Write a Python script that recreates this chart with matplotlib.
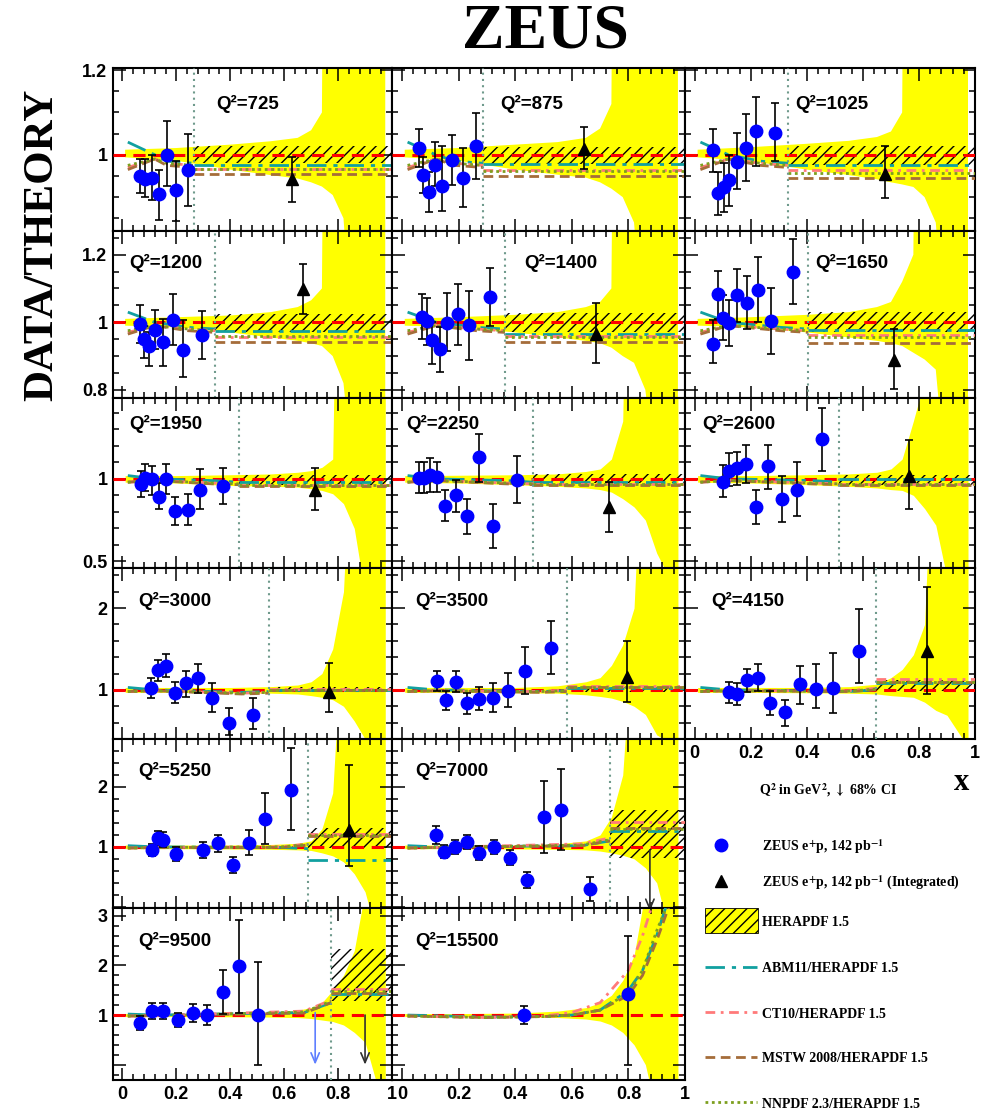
import numpy as np
import matplotlib
matplotlib.use('Agg')
import matplotlib.pyplot as plt
from matplotlib.patches import Rectangle
from matplotlib.ticker import MultipleLocator, FuncFormatter

plt.rcParams['mathtext.fontset'] = 'stix'
plt.rcParams['hatch.linewidth'] = 1.0

SANS = 'Liberation Sans'
SERIF = 'Liberation Serif'

Q2 = [725, 875, 1025, 1200, 1400, 1650, 1950, 2250, 2600,
      3000, 3500, 4150, 5250, 7000, 9500, 15500]

# differential points (x, ratio, upper end of error, lower end of error)
PT_X = [
    [0.067, 0.085, 0.11, 0.135, 0.165, 0.2, 0.242],
    [0.061, 0.075, 0.095, 0.117, 0.142, 0.178, 0.217, 0.261],
    [0.065, 0.083, 0.104, 0.123, 0.151, 0.181, 0.218, 0.286],
    [0.067, 0.079, 0.1, 0.122, 0.151, 0.188, 0.225, 0.295],
    [0.07, 0.087, 0.106, 0.134, 0.161, 0.199, 0.238, 0.311],
    [0.065, 0.083, 0.101, 0.123, 0.151, 0.185, 0.224, 0.271, 0.351],
    [0.07, 0.083, 0.11, 0.134, 0.162, 0.196, 0.242, 0.289, 0.373],
    [0.061, 0.079, 0.099, 0.125, 0.152, 0.19, 0.229, 0.272, 0.323, 0.405],
    [0.101, 0.123, 0.151, 0.182, 0.218, 0.26, 0.311, 0.363, 0.455],
    [0.107, 0.132, 0.162, 0.196, 0.236, 0.28, 0.332, 0.394, 0.484],
    [0.125, 0.154, 0.19, 0.229, 0.272, 0.323, 0.376, 0.435, 0.525],
    [0.123, 0.151, 0.185, 0.224, 0.27, 0.321, 0.377, 0.434, 0.494, 0.587],
    [0.111, 0.133, 0.152, 0.2, 0.3, 0.356, 0.411, 0.47, 0.53, 0.626],
    [0.12, 0.148, 0.187, 0.23, 0.272, 0.325, 0.382, 0.442, 0.502, 0.562, 0.664],
    [0.067, 0.111, 0.152, 0.207, 0.26, 0.315, 0.374, 0.433, 0.504],
    [0.431, 0.80],
]
PT_Y = [
    [0.95, 0.944, 0.946, 0.907, 1.0, 0.916, 0.964],
    [1.016, 0.953, 0.912, 0.977, 0.926, 0.988, 0.946, 1.021],
    [1.011, 0.909, 0.923, 0.941, 0.984, 1.017, 1.056, 1.052],
    [0.994, 0.952, 0.929, 0.978, 0.942, 1.008, 0.919, 0.961],
    [1.016, 1.004, 0.949, 0.922, 0.999, 1.024, 0.991, 1.075],
    [0.937, 1.083, 1.014, 0.998, 1.082, 1.057, 1.095, 1.004, 1.149],
    [0.968, 1.008, 1.0, 0.893, 1.0, 0.803, 0.809, 0.934, 0.958],
    [1.008, 1.008, 1.024, 1.014, 0.837, 0.904, 0.773, 1.131, 0.717, 0.994],
    [0.984, 1.048, 1.064, 1.088, 0.829, 1.078, 0.878, 0.934, 1.241],
    [1.02, 1.243, 1.295, 0.968, 1.081, 1.142, 0.906, 0.595, 0.688],
    [1.109, 0.878, 1.101, 0.838, 0.891, 0.899, 0.992, 1.231, 1.515],
    [0.98, 0.951, 1.122, 1.15, 0.838, 0.724, 1.069, 1.012, 1.02, 1.474],
    [0.95, 1.15, 1.12, 0.88, 0.95, 1.06, 0.7, 1.07, 1.47, 1.95],
    [1.2, 0.92, 1.0, 1.08, 0.9, 1.0, 0.82, 0.45, 1.5, 1.62, 0.3],
    [0.84, 1.08, 1.08, 0.9, 1.04, 1.0, 1.46, 1.98, 1.0],
    [1.0, 1.42],
]
PT_UP = [
    [0.99, 0.99, 1.0, 0.965, 1.08, 0.986, 1.049],
    [1.06, 0.995, 0.96, 1.031, 1.02, 1.047, 1.016, 1.098],
    [1.061, 0.96, 0.98, 0.999, 1.052, 1.097, 1.137, 1.122],
    [1.05, 0.99, 0.97, 1.036, 1.011, 1.085, 1.006, 1.033],
    [1.085, 1.072, 1.0, 0.986, 1.088, 1.113, 1.092, 1.161],
    [1.006, 1.152, 1.08, 1.067, 1.159, 1.137, 1.192, 1.102, 1.245],
    [1.05, 1.088, 1.08, 0.974, 1.09, 0.893, 0.908, 1.06, 1.068],
    [1.104, 1.104, 1.124, 1.104, 0.934, 0.994, 0.88, 1.271, 0.848, 1.139],
    [1.084, 1.155, 1.165, 1.205, 0.934, 1.205, 1.018, 1.1, 1.43],
    [1.142, 1.365, 1.437, 1.093, 1.231, 1.312, 1.081, 0.785, 0.899],
    [1.231, 0.988, 1.231, 0.96, 1.04, 1.081, 1.202, 1.519, 1.843],
    [1.101, 1.081, 1.256, 1.312, 0.988, 0.878, 1.296, 1.312, 1.446, 1.984],
    [1.05, 1.27, 1.24, 0.99, 1.08, 1.2, 0.83, 1.28, 1.9, 2.65],
    [1.35, 1.03, 1.12, 1.2, 1.02, 1.12, 0.95, 0.58, 2.1, 2.3, 0.5],
    [0.98, 1.24, 1.24, 1.05, 1.22, 1.2, 1.9, 2.92, 2.08],
    [1.18, 2.6],
]
PT_DN = [
    [0.91, 0.9, 0.893, 0.847, 0.926, 0.843, 0.88],
    [0.97, 0.91, 0.866, 0.926, 0.868, 0.928, 0.877, 0.943],
    [0.959, 0.858, 0.866, 0.88, 0.92, 0.938, 0.974, 0.986],
    [0.94, 0.895, 0.87, 0.922, 0.87, 0.932, 0.838, 0.892],
    [0.952, 0.932, 0.877, 0.853, 0.915, 0.934, 0.889, 0.988],
    [0.879, 1.01, 0.947, 0.929, 1.001, 0.979, 1.001, 0.907, 1.055],
    [0.893, 0.924, 0.9, 0.819, 0.908, 0.719, 0.719, 0.819, 0.849],
    [0.914, 0.914, 0.92, 0.92, 0.743, 0.799, 0.667, 0.98, 0.582, 0.854],
    [0.888, 0.954, 0.96, 0.974, 0.727, 0.94, 0.737, 0.777, 1.048],
    [0.906, 1.109, 1.162, 0.838, 0.919, 0.96, 0.736, 0.453, 0.525],
    [0.988, 0.757, 0.98, 0.704, 0.757, 0.728, 0.79, 0.948, 1.19],
    [0.838, 0.818, 0.98, 0.988, 0.688, 0.553, 0.826, 0.777, 0.717, 1.081],
    [0.85, 1.03, 1.0, 0.77, 0.82, 0.92, 0.57, 0.86, 1.05, 1.28],
    [1.05, 0.81, 0.88, 0.96, 0.78, 0.88, 0.69, 0.32, 0.9, 0.95, 0.1],
    [0.7, 0.92, 0.92, 0.75, 0.86, 0.8, 1.02, 1.05, 0.0],
    [0.82, 0.0],
]

# integrated bin: boundary, triangle point, HERAPDF hatched band
EDGE = [0.264, 0.287, 0.333, 0.344, 0.364, 0.405, 0.431, 0.464, 0.515,
        0.542, 0.582, 0.646, 0.689, 0.735, 0.774, None]
TRI_X = [0.628, 0.644, 0.679, 0.669, 0.684, 0.712, 0.715, 0.733, 0.765,
         0.768, 0.794, 0.83, 0.84, None, None, None]
TRI_Y = [0.943, 1.013, 0.955, 1.097, 0.964, 0.887, 0.93, 0.827, 1.02,
         0.98, 1.162, 1.474, 1.28, None, None, None]
TRI_UP = [0.995, 1.066, 1.021, 1.172, 1.057, 0.979, 1.068, 0.984, 1.235,
          1.324, 1.596, 2.254, 2.37, None, None, None]
TRI_DN = [0.889, 0.967, 0.898, 1.024, 0.879, 0.803, 0.813, 0.677, 0.819,
          0.736, 0.85, 0.948, 0.68, None, None, None]
HATCH_LO = [0.98, 0.978, 0.977, 0.971, 0.971, 0.971, 0.96, 0.974, 0.964,
            0.97, 0.97, 0.985, 0.98, 0.82, 1.28, None]
HATCH_HI = [1.02, 1.019, 1.021, 1.023, 1.026, 1.031, 1.024, 1.028, 1.024,
            1.03, 1.04, 1.12, 1.32, 1.62, 2.33, None]

# 68% CI upper limits drawn as arrows
LIMIT_PANEL = [13, 14, 14]
LIMIT_X = [0.876, 0.715, 0.9]
LIMIT_TOP = [0.95, 1.05, 1.0]
LIMIT_BOTTOM = [-0.07, 0.0, 0.0]
LIMIT_COLOR = ['#303030', '#5f7fff', '#303030']

# HERAPDF 1.5 uncertainty band
BAND_X = [0.01, 0.2, 0.4, 0.55, 0.65, 0.7, 0.74, 0.78, 0.82, 0.86, 0.9, 0.975]
BAND_UP = [
    [1.012, 1.016, 1.024, 1.032, 1.04, 1.058, 1.1, 5, 5, 5, 5, 5],
    [1.012, 1.016, 1.024, 1.03, 1.04, 1.062, 1.12, 5, 5, 5, 5, 5],
    [1.012, 1.018, 1.026, 1.033, 1.042, 1.055, 1.1, 5, 5, 5, 5, 5],
    [1.01, 1.015, 1.02, 1.03, 1.045, 1.065, 1.1, 5, 5, 5, 5, 5],
    [1.01, 1.015, 1.022, 1.03, 1.045, 1.06, 1.1, 5, 5, 5, 5, 5],
    [1.01, 1.015, 1.022, 1.03, 1.045, 1.06, 1.12, 1.2, 5, 5, 5, 5],
    [1.02, 1.02, 1.025, 1.03, 1.04, 1.05, 1.07, 1.12, 5, 5, 5, 5],
    [1.02, 1.022, 1.025, 1.03, 1.045, 1.06, 1.12, 1.35, 5, 5, 5, 5],
    [1.02, 1.02, 1.025, 1.03, 1.04, 1.06, 1.12, 1.35, 1.6, 5, 5, 5],
    [1.03, 1.03, 1.03, 1.04, 1.06, 1.1, 1.2, 1.5, 2.2, 5, 5, 5],
    [1.03, 1.03, 1.03, 1.05, 1.1, 1.15, 1.3, 1.55, 2.0, 5, 5, 5],
    [1.03, 1.03, 1.03, 1.04, 1.07, 1.15, 1.25, 1.43, 1.8, 5, 5, 5],
    [1.03, 1.03, 1.03, 1.04, 1.06, 1.1, 1.3, 1.9, 5, 5, 5, 5],
    [1.03, 1.03, 1.03, 1.05, 1.1, 1.2, 1.5, 2.2, 5, 5, 5, 5],
    [1.03, 1.03, 1.03, 1.05, 1.1, 1.15, 1.25, 1.5, 1.8, 2.3, 3.5, 5],
    [1.03, 1.03, 1.04, 1.08, 1.15, 1.25, 1.4, 1.7, 2.2, 3.5, 5, 5],
]
BAND_DN = [
    [0.994, 0.986, 0.965, 0.952, 0.944, 0.935, 0.925, 0.905, 0.85, 0.5, 0.5, 0.5],
    [0.994, 0.986, 0.965, 0.953, 0.946, 0.935, 0.92, 0.9, 0.84, 0.5, 0.5, 0.5],
    [0.994, 0.985, 0.965, 0.952, 0.942, 0.935, 0.93, 0.924, 0.9, 0.84, 0.5, 0.5],
    [0.99, 0.985, 0.97, 0.955, 0.945, 0.938, 0.93, 0.9, 0.82, 0.5, 0.5, 0.5],
    [0.99, 0.985, 0.97, 0.955, 0.945, 0.938, 0.925, 0.9, 0.88, 0.8, 0.5, 0.5],
    [0.99, 0.985, 0.97, 0.955, 0.945, 0.938, 0.93, 0.91, 0.89, 0.86, 0.5, 0.5],
    [0.98, 0.975, 0.96, 0.955, 0.95, 0.94, 0.93, 0.91, 0.85, 0.7, 0.3, 0.3],
    [0.98, 0.975, 0.965, 0.955, 0.945, 0.935, 0.92, 0.88, 0.83, 0.75, 0.55, 0.3],
    [0.98, 0.975, 0.965, 0.955, 0.945, 0.935, 0.93, 0.9, 0.82, 0.72, 0.4, 0.3],
    [0.97, 0.97, 0.965, 0.96, 0.95, 0.93, 0.91, 0.88, 0.8, 0.62, 0.4, 0.3],
    [0.97, 0.97, 0.965, 0.96, 0.94, 0.92, 0.9, 0.86, 0.8, 0.7, 0.45, 0.3],
    [0.97, 0.97, 0.965, 0.96, 0.95, 0.93, 0.92, 0.91, 0.85, 0.75, 0.69, 0.3],
    [0.97, 0.97, 0.965, 0.96, 0.95, 0.94, 0.9, 0.85, 0.75, 0.55, 0.25, -1],
    [0.97, 0.97, 0.965, 0.96, 0.95, 0.93, 0.9, 0.86, 0.8, 0.65, 0.4, -1],
    [0.97, 0.97, 0.965, 0.96, 0.95, 0.93, 0.9, 0.87, 0.8, 0.65, 0.45, -1],
    [0.97, 0.97, 0.96, 0.95, 0.92, 0.88, 0.8, 0.65, 0.4, 0.0, -1, -1],
]

# other PDFs / HERAPDF 1.5: curve knots below the edge, flat value above it
CURVE_X = [[0.02, 0.12, e - 0.1, e] for e in EDGE[:-1]] + \
          [[0.02, 0.3, 0.5, 0.6, 0.7, 0.8, 0.85, 0.9, 0.95]]
ABM_C = [[1.03, 1.0, 0.985, 0.98]] * 6 + [[1.02, 1.0, 0.99, 0.98]] * 3 + [
    [1.03, 1.0, 0.97, 0.98], [1.03, 1.0, 0.98, 0.99], [1.03, 1.0, 0.98, 1.0],
    [1.02, 1.0, 0.99, 0.97], [1.02, 1.0, 1.02, 1.1], [1.02, 1.0, 1.05, 1.25],
    [1.0, 0.96, 0.97, 1.0, 1.1, 1.5, 1.9, 2.6, 3.5]]
CT10_C = [[0.97, 0.99, 0.98, 0.975]] * 6 + [[0.98, 0.99, 0.975, 0.97]] * 3 + [
    [0.98, 0.99, 0.96, 0.97], [0.98, 0.99, 0.98, 1.0], [0.98, 0.99, 0.99, 1.02],
    [0.98, 0.99, 1.0, 1.05], [0.98, 0.99, 1.05, 1.15], [0.98, 0.99, 1.08, 1.3],
    [0.98, 0.95, 0.98, 1.05, 1.25, 1.9, 2.6, 3.5, 4.0]]
MSTW_C = [[0.965, 0.99, 0.975, 0.97]] * 6 + [[0.98, 0.99, 0.97, 0.965]] * 3 + [
    [0.98, 0.99, 0.95, 0.96], [0.98, 0.99, 0.97, 0.98], [0.98, 0.99, 0.98, 1.0],
    [0.98, 0.99, 0.99, 1.03], [0.98, 0.99, 1.02, 1.1], [0.98, 0.99, 1.04, 1.25],
    [0.98, 0.95, 0.97, 1.0, 1.1, 1.4, 1.8, 2.5, 3.3]]
NNPDF_C = [[0.975, 0.99, 0.98, 0.975]] * 6 + [[0.98, 0.99, 0.975, 0.97]] * 3 + [
    [0.98, 0.99, 0.96, 0.97], [0.98, 0.99, 0.98, 0.99], [0.98, 0.99, 0.985, 1.01],
    [0.98, 0.99, 1.0, 1.04], [0.98, 0.99, 1.03, 1.12], [0.98, 0.99, 1.06, 1.28],
    [0.98, 0.95, 0.97, 1.0, 1.1, 1.45, 1.9, 2.7, 3.4]]
ABM_INT = [0.976, 0.978, 0.976, 0.974, 0.966, 0.978, 0.98, 0.98, 0.997,
           1.0, 1.02, 1.08, 0.78, 1.27, 1.42, None]
CT10_INT = [0.967, 0.964, 0.963, 0.956, 0.958, 0.961, 0.962, 0.966, 0.97,
            1.01, 1.05, 1.13, 1.22, 1.42, 1.52, None]
MSTW_INT = [0.955, 0.951, 0.946, 0.942, 0.942, 0.94, 0.958, 0.962, 0.965,
            0.995, 1.03, 1.1, 1.18, 1.32, 1.45, None]
NNPDF_INT = [0.966, 0.962, 0.958, 0.958, 0.955, 0.955, 0.965, 0.968, 0.968,
             1.0, 1.03, 1.1, 1.2, 1.3, 1.48, None]

MODELS = [
    ('ABM11/HERAPDF 1.5', ABM_C, ABM_INT, '#11a0a0', (0, (7, 2.5, 1.5, 2.5))),
    ('CT10/HERAPDF 1.5', CT10_C, CT10_INT, '#ff7a7a', (0, (3.5, 2, 1, 2))),
    ('MSTW 2008/HERAPDF 1.5', MSTW_C, MSTW_INT, '#a56d3a', (0, (3.5, 2))),
    ('NNPDF 2.3/HERAPDF 1.5', NNPDF_C, NNPDF_INT, '#7d9f1e', (0, (1, 1.3))),
]

# layout in pixels
W, H = 982, 1113
COL_L = [113, 392, 685]
COL_R = [392, 685, 975]
ROW_T = [68, 231, 398, 568, 739, 908]
ROW_B = [231, 398, 568, 739, 908, 1080]
PANEL_RC = [(0, 0), (0, 1), (0, 2), (1, 0), (1, 1), (1, 2), (2, 0), (2, 1), (2, 2),
            (3, 0), (3, 1), (3, 2), (4, 0), (4, 1), (5, 0), (5, 1)]
YLIM = [(0.82, 1.205), (0.776, 1.27), (0.46, 1.49), (0.40, 2.49), (-0.02, 2.8), (-0.31, 3.16)]
YTICK = [(0.2, 0.05), (0.2, 0.05), (0.5, 0.1), (1, 0.2), (1, 0.2), (1, 0.2)]
LABEL_POS = [(0.37, 0.78), (0.37, 0.78), (0.38, 0.78),
             (0.06, 0.81), (0.45, 0.81), (0.45, 0.81),
             (0.06, 0.85), (0.05, 0.85), (0.06, 0.85),
             (0.09, 0.81), (0.08, 0.81), (0.09, 0.81),
             (0.09, 0.81), (0.08, 0.81), (0.09, 0.81), (0.08, 0.81)]
XLABELED = (11, 14, 15)

fig = plt.figure(figsize=(W / 100, H / 100), dpi=100)
lax = fig.add_axes([0, 0, 1, 1])
lax.set_xlim(0, W)
lax.set_ylim(H, 0)
lax.axis('off')

xfmt = FuncFormatter(lambda v, p: f'{v:g}')
yfmt = FuncFormatter(lambda v, p: '' if abs(v) < 1e-9 else f'{v:g}')

for i, q in enumerate(Q2):
    r, c = PANEL_RC[i]
    ax = fig.add_axes([COL_L[c] / W, 1 - ROW_B[r] / H,
                       (COL_R[c] - COL_L[c]) / W, (ROW_B[r] - ROW_T[r]) / H])
    ax.set_xlim(-0.035, 1.0)
    ax.set_ylim(*YLIM[r])

    ax.fill_between(BAND_X, BAND_DN[i], BAND_UP[i], color='#ffff00', lw=0, zorder=1)
    edge = EDGE[i]
    if edge is not None:
        ax.fill_between([edge, 1.0], HATCH_LO[i], HATCH_HI[i], facecolor='none',
                        edgecolor='black', hatch='///', lw=0, zorder=2)
    ax.axhline(1.0, color='#ff0000', ls=(0, (4, 2.5)), lw=2.2, zorder=3)

    for name, curves, ints, col, ls in MODELS:
        ax.plot(CURVE_X[i], curves[i], color=col, ls=ls, lw=2, zorder=4)
        if edge is not None:
            ax.plot([edge, 1.0], [ints[i], ints[i]], color=col, ls=ls, lw=2, zorder=4)
    if edge is not None:
        ax.axvline(edge, color='#6f9a8c', ls=(0, (1, 2)), lw=1.5, zorder=4)

    x = np.array(PT_X[i]); y = np.array(PT_Y[i])
    ax.errorbar(x, y, yerr=[y - np.array(PT_DN[i]), np.array(PT_UP[i]) - y],
                fmt='o', ms=9, color='#0000ff', mec='#0000ff', ecolor='black',
                elinewidth=1.2, capsize=2.8, capthick=1.2, zorder=5)
    if TRI_X[i] is not None:
        ax.errorbar([TRI_X[i]], [TRI_Y[i]],
                    yerr=[[TRI_Y[i] - TRI_DN[i]], [TRI_UP[i] - TRI_Y[i]]],
                    fmt='^', ms=8, color='black', elinewidth=1.2, capsize=2.8,
                    capthick=1.2, zorder=5)
    for p, lx, top, bot, lc in zip(LIMIT_PANEL, LIMIT_X, LIMIT_TOP, LIMIT_BOTTOM, LIMIT_COLOR):
        if p == i:
            ax.annotate('', xy=(lx, bot), xytext=(lx, top), annotation_clip=False,
                        arrowprops=dict(arrowstyle='->,head_length=0.7,head_width=0.3',
                                        color=lc, lw=1.2, shrinkA=0, shrinkB=0), zorder=6)

    ax.text(LABEL_POS[i][0], LABEL_POS[i][1], f'Q²={q}', transform=ax.transAxes,
            fontsize=13.5, family=SANS, weight='bold', va='center', ha='left')

    ax.xaxis.set_major_locator(MultipleLocator(0.2))
    ax.xaxis.set_minor_locator(MultipleLocator(0.04))
    ax.yaxis.set_major_locator(MultipleLocator(YTICK[r][0]))
    ax.yaxis.set_minor_locator(MultipleLocator(YTICK[r][1]))
    ax.tick_params(which='both', direction='in', top=True, right=True, width=1.1)
    ax.tick_params(which='major', length=9)
    ax.tick_params(which='minor', length=4.5)
    ax.xaxis.set_major_formatter(xfmt)
    ax.yaxis.set_major_formatter(yfmt)
    ax.tick_params(labelbottom=(i in XLABELED), labelleft=(c == 0), pad=4)
    for lab in ax.get_xticklabels() + ax.get_yticklabels():
        lab.set_fontfamily(SANS)
        lab.set_fontweight('bold')
        lab.set_fontsize(13)
    for s in ax.spines.values():
        s.set_linewidth(1.5)

# titles
lax.text(545, 32, 'ZEUS', ha='center', va='center', fontsize=46,
         family=SERIF, weight='bold')
lax.text(42, 245, 'DATA/THEORY', ha='center', va='center', rotation=90,
         fontsize=31, family=SERIF, weight='bold')
lax.text(962, 783, 'x', ha='center', va='center', fontsize=22,
         family=SERIF, weight='bold')

# legend
LEG_FONT = dict(fontsize=10, family=SERIF, weight='bold', va='center', ha='left')
lax.text(828, 790, r'Q$^{\mathbf{2}}$ in GeV$^{\mathbf{2}}$, $\mathbf{\downarrow}$ 68% CI',
         **dict(LEG_FONT, ha='center'))
lax.plot([721], [845], 'o', ms=9, color='#0000ff')
lax.text(762, 847, r'ZEUS e$^{\mathbf{+}}$p, 142 pb$^{\mathbf{-1}}$', **LEG_FONT)
lax.plot([721], [881], '^', ms=8, color='black')
lax.text(762, 883, r'ZEUS e$^{\mathbf{+}}$p, 142 pb$^{\mathbf{-1}}$ (Integrated)', **LEG_FONT)
lax.add_patch(Rectangle((705, 908), 53, 25, facecolor='#ffff00', edgecolor='black',
                        hatch='///', lw=0.6))
lax.text(762, 922, 'HERAPDF 1.5', **LEG_FONT)
for k, (name, curves, ints, col, ls) in enumerate(MODELS):
    yy = 967 + 45 * k
    lax.plot([705, 757], [yy, yy], color=col, ls=ls, lw=2)
    lax.text(762, yy + 2, name, **LEG_FONT)

fig.savefig('out.png', dpi=100)
